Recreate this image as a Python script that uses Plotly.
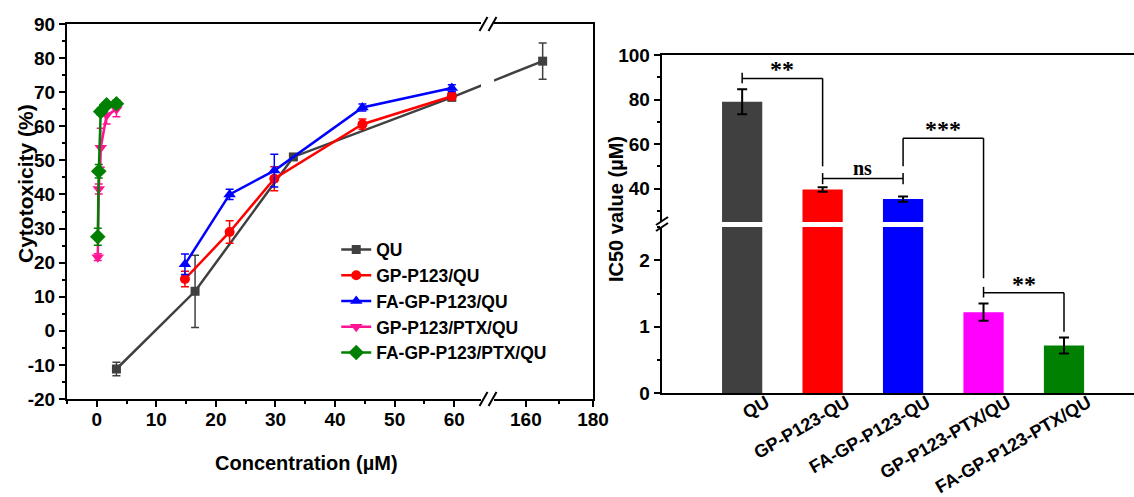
import plotly.graph_objects as go

W, H = 1134, 497
FONT = "Arial, Liberation Sans, sans-serif"
SERIF = "Times New Roman, Liberation Serif, serif"

# ---------------- Cytotoxicity (%) versus concentration (µM) ----------------
qu_conc = [3.3, 16.5, 33.0, 59.6, 165.0]
qu_tox = [-11.2, 11.6, 51.0, 68.5, 79.1]
qu_err = [2.0, 10.6, 0.8, 1.0, 5.3]

gp_conc = [14.8, 22.3, 29.8, 44.6, 59.6]
gp_tox = [15.2, 29.0, 44.6, 60.6, 68.8]
gp_err = [2.3, 3.3, 3.5, 1.5, 1.0]

fa_conc = [14.8, 22.3, 29.8, 44.6, 59.6]
fa_tox = [19.5, 40.0, 47.0, 65.5, 71.2]
fa_err = [3.0, 1.5, 4.8, 1.0, 1.0]

ptx_conc = [0.165, 0.33, 0.66, 1.65, 3.3]
gp_ptx_tox = [21.6, 41.6, 53.7, 63.2, 65.0]
gp_ptx_err = [1.0, 1.5, 5.7, 2.5, 2.2]
fa_ptx_tox = [27.6, 46.8, 64.3, 66.3, 66.6]
fa_ptx_err = [2.5, 2.0, 1.0, 0.8, 1.0]

tox_ticks = [-20, -10, 0, 10, 20, 30, 40, 50, 60, 70, 80, 90]
conc_ticks_left = [0, 10, 20, 30, 40, 50, 60]
conc_ticks_right = [160, 180]

# ---------------- IC50 values (µM) ----------------
ic50_groups = ["QU", "GP-P123-QU", "FA-GP-P123-QU", "GP-P123-PTX/QU", "FA-GP-P123-PTX/QU"]
ic50_vals = [79.0, 39.6, 35.3, 1.22, 0.72]
ic50_err = [5.6, 1.0, 1.2, 0.13, 0.12]
bar_colors = ["#404040", "#FF0000", "#0000FF", "#FF00FF", "#008000"]
ic50_ticks_low = [0, 1, 2]
ic50_ticks_high = [40, 60, 80, 100]

# significance labels between neighbouring groups
sig_pairs = [(0, 1, "**"), (1, 2, "ns"), (2, 3, "***"), (3, 4, "**")]

# ---------------- layout geometry (pixels) ----------------
def px_x(p):
    return p / W


def px_y(p):
    return 1 - p / H


LEFT_DOM = [px_x(67), px_x(481)]
LEFT_RNG = [-5, 64.5]
RIGHT_DOM = [px_x(494), px_x(593)]
RIGHT_RNG = [150.5, 180]
TOX_DOM = [px_y(399), px_y(24)]
TOX_RNG = [-20, 90]

BAR_DOM = [px_x(661.7), 1.0]
BAR_RNG = [-1, 4.87]
LOW_DOM = [px_y(393.3), px_y(227)]
LOW_RNG = [0, 2.5]
HIGH_DOM = [px_y(222), px_y(55)]
HIGH_RNG = [25, 100]


def to_paper(v, dom, rng):
    return dom[0] + (v - rng[0]) / (rng[1] - rng[0]) * (dom[1] - dom[0])


def from_paper(p, dom, rng):
    return rng[0] + (p - dom[0]) / (dom[1] - dom[0]) * (rng[1] - rng[0])


def right_to_left(v):
    return from_paper(to_paper(v, RIGHT_DOM, RIGHT_RNG), LEFT_DOM, LEFT_RNG)


def left_to_right(v):
    return from_paper(to_paper(v, LEFT_DOM, LEFT_RNG), RIGHT_DOM, RIGHT_RNG)


fig = go.Figure()

series = [
    ("GP-P123/QU", gp_conc, gp_tox, gp_err, "#FF0000", "circle", 10),
    ("FA-GP-P123/QU", fa_conc, fa_tox, fa_err, "#0000FF", "triangle-up", 11),
    ("GP-P123/PTX/QU", ptx_conc, gp_ptx_tox, gp_ptx_err, "#FF1493", "triangle-down", 11),
    ("FA-GP-P123/PTX/QU", ptx_conc, fa_ptx_tox, fa_ptx_err, "#008000", "diamond", 12),
]

# QU spans both segments of the broken concentration axis
qu_left = [(c, t, e) for c, t, e in zip(qu_conc, qu_tox, qu_err) if c <= LEFT_RNG[1]]
qu_right = [(c, t, e) for c, t, e in zip(qu_conc, qu_tox, qu_err) if c >= RIGHT_RNG[0]]
QU_COLOR = "#404040"

fig.add_trace(go.Scatter(
    x=[p[0] for p in qu_left], y=[p[1] for p in qu_left],
    error_y=dict(type="data", array=[p[2] for p in qu_left], color=QU_COLOR, thickness=1.5, width=4),
    mode="lines+markers", name="QU",
    line=dict(color=QU_COLOR, width=2.5),
    marker=dict(symbol="square", size=9, color=QU_COLOR),
    xaxis="x", yaxis="y",
))
# connecting segment across the break
fig.add_trace(go.Scatter(
    x=[qu_left[-1][0], right_to_left(qu_right[0][0])], y=[qu_left[-1][1], qu_right[0][1]],
    mode="lines", line=dict(color=QU_COLOR, width=2.5), showlegend=False, hoverinfo="skip",
    xaxis="x", yaxis="y",
))
fig.add_trace(go.Scatter(
    x=[left_to_right(qu_left[-1][0]), qu_right[0][0]], y=[qu_left[-1][1], qu_right[0][1]],
    mode="lines", line=dict(color=QU_COLOR, width=2.5), showlegend=False, hoverinfo="skip",
    xaxis="x2", yaxis="y2",
))
fig.add_trace(go.Scatter(
    x=[p[0] for p in qu_right], y=[p[1] for p in qu_right],
    error_y=dict(type="data", array=[p[2] for p in qu_right], color=QU_COLOR, thickness=1.5, width=4),
    mode="markers", showlegend=False,
    marker=dict(symbol="square", size=9, color=QU_COLOR),
    xaxis="x2", yaxis="y2",
))

for name, xs, ys, es, col, sym, size in series:
    fig.add_trace(go.Scatter(
        x=xs, y=ys,
        error_y=dict(type="data", array=es, color=col, thickness=1.5, width=4),
        mode="lines+markers", name=name,
        line=dict(color=col, width=2.5),
        marker=dict(symbol=sym, size=size, color=col),
        xaxis="x", yaxis="y",
    ))

# IC50 bars drawn on both halves of the broken value axis
idx = list(range(len(ic50_groups)))
err_high = [e if v >= HIGH_RNG[0] else 0 for v, e in zip(ic50_vals, ic50_err)]
err_low = [e if v <= LOW_RNG[1] else 0 for v, e in zip(ic50_vals, ic50_err)]
for xa, ya, errs in (("x3", "y3", err_low), ("x4", "y4", err_high)):
    fig.add_trace(go.Bar(
        x=idx, y=ic50_vals, width=0.5,
        marker=dict(color=bar_colors, line=dict(width=0)),
        error_y=dict(type="data", array=errs, color="black", thickness=2, width=5),
        showlegend=False, xaxis=xa, yaxis=ya,
    ))

tick_font = dict(family=FONT, size=19, color="black", weight="bold")
axis_common = dict(showline=True, linecolor="black", linewidth=2, showgrid=False, zeroline=False,
                   automargin=False,
                   ticks="outside", ticklen=6, tickwidth=2, tickcolor="black", tickfont=tick_font)
minor_style = dict(ticks="outside", ticklen=3, tickwidth=2, tickcolor="black")

fig.update_layout(
    width=W, height=H,
    margin=dict(l=0, r=0, t=0, b=0, autoexpand=False),
    paper_bgcolor="white", plot_bgcolor="white",
    font=dict(family=FONT, color="black"),
    showlegend=True,
    legend=dict(
        x=0.2965, y=0.534, xanchor="left", yanchor="top",
        font=dict(family=FONT, size=17.5, color="black", weight="bold"),
        bgcolor="rgba(0,0,0,0)", borderwidth=0, tracegroupgap=0, itemwidth=30,
    ),
    xaxis=dict(domain=LEFT_DOM, range=LEFT_RNG, anchor="y", mirror=True,
               tickvals=conc_ticks_left, minor=dict(dtick=5, tick0=0, **minor_style),
               ticklabelstandoff=-4, **axis_common),
    yaxis=dict(domain=TOX_DOM, range=TOX_RNG, anchor="x",
               tickvals=tox_ticks, ticktext=[str(t) for t in tox_ticks],
               minor=dict(dtick=5, tick0=0, **minor_style),
               **axis_common),
    xaxis2=dict(domain=RIGHT_DOM, range=RIGHT_RNG, anchor="y2", mirror=True,
                tickvals=conc_ticks_right, minor=dict(dtick=10, tick0=150, **minor_style),
                ticklabelstandoff=-4, **axis_common),
    yaxis2=dict(domain=TOX_DOM, range=TOX_RNG, anchor="x2", side="right", matches="y",
                showline=True, linecolor="black", linewidth=2, showgrid=False, zeroline=False,
                automargin=False, ticks="", showticklabels=False),
    xaxis3=dict(domain=BAR_DOM, range=BAR_RNG, anchor="y3",
                tickvals=idx, ticktext=ic50_groups, tickangle=-30,
                ticklabelshift=24, ticklabelstandoff=-10,
                showline=True, linecolor="black", linewidth=2, showgrid=False, zeroline=False,
                automargin=False, ticks="",
                tickfont=dict(family=FONT, size=18, color="black", weight="bold")),
    xaxis4=dict(domain=BAR_DOM, range=BAR_RNG, anchor="y4", side="top", matches="x3",
                showline=True, linecolor="black", linewidth=2, showgrid=False, zeroline=False,
                automargin=False, ticks="", showticklabels=False),
    yaxis3=dict(domain=LOW_DOM, range=LOW_RNG, anchor="x3", tickvals=ic50_ticks_low,
                minor=dict(dtick=0.5, tick0=0, **minor_style), **axis_common),
    yaxis4=dict(domain=HIGH_DOM, range=HIGH_RNG, anchor="x4", tickvals=ic50_ticks_high,
                minor=dict(dtick=10, tick0=0, **minor_style), **axis_common),
)

shapes = []
annotations = []


def seg(x0, y0, x1, y1, width=2):
    shapes.append(dict(type="line", xref="paper", yref="paper", x0=x0, y0=y0, x1=x1, y1=y1,
                       line=dict(color="black", width=width)))


# axis break marks on the concentration axis (top and bottom)
for cy in (24, 399):
    for cx in (483.5, 492.5):
        seg(px_x(cx - 4), px_y(cy + 7), px_x(cx + 4), px_y(cy - 7))
# axis break mark on the IC50 axis
for cy in (221, 227):
    seg(px_x(656), px_y(cy + 4), px_x(668), px_y(cy - 4))


def vy(v, part):
    if part == "high":
        return to_paper(v, HIGH_DOM, HIGH_RNG)
    return to_paper(v, LOW_DOM, LOW_RNG)


# significance brackets: (x, part, value) polylines
brackets = [
    [[(0, "high", 87.3), (0, "high", 92.0)],
     [(0, "high", 89.5), (1, "high", 89.5), (1, "high", 50.0)]],
    [[(1, "high", 42.0), (1, "high", 47.0)],
     [(1, "high", 44.5), (2, "high", 44.5)],
     [(2, "high", 42.0), (2, "high", 47.0)]],
    [[(2, "high", 50.0), (2, "high", 62.6), (3, "high", 62.6), (3, "low", 1.73)]],
    [[(3, "low", 1.44), (3, "low", 1.60)],
     [(3, "low", 1.513), (4, "low", 1.513), (4, "low", 0.926)]],
]
label_pos = [("high", 89.5), ("high", 44.5), ("high", 62.6), ("low", 1.513)]

for (a, b, txt), lines, (part, lev) in zip(sig_pairs, brackets, label_pos):
    for line in lines:
        for (xa, pa, va), (xb, pb, vb) in zip(line[:-1], line[1:]):
            shapes.append(dict(type="line", xref="x3", yref="paper", x0=xa, x1=xb,
                               y0=vy(va, pa), y1=vy(vb, pb), line=dict(color="black", width=1.5)))
    annotations.append(dict(
        x=(a + b) / 2, y=vy(lev, part), xref="x3", yref="paper", text=txt, showarrow=False,
        xanchor="center", yanchor="bottom", yshift=(-6 if "*" in txt else -2),
        font=dict(family=SERIF, size=24 if "*" in txt else 20, color="black", weight="bold"),
    ))

# axis titles
annotations += [
    dict(x=px_x(25), y=px_y(184), xref="paper", yref="paper", text="Cytotoxicity (%)",
         textangle=-90, showarrow=False, xanchor="center", yanchor="middle",
         font=dict(family=FONT, size=21, color="black", weight="bold")),
    dict(x=px_x(306), y=px_y(463), xref="paper", yref="paper", text="Concentration (µM)",
         showarrow=False, xanchor="center", yanchor="middle",
         font=dict(family=FONT, size=20, color="black", weight="bold")),
    dict(x=px_x(616), y=px_y(209), xref="paper", yref="paper", text="IC50 value (µM)",
         textangle=-90, showarrow=False, xanchor="center", yanchor="middle",
         font=dict(family=FONT, size=20, color="black", weight="bold")),
]

fig.update_layout(shapes=shapes, annotations=annotations)
fig.write_html("out.html")
